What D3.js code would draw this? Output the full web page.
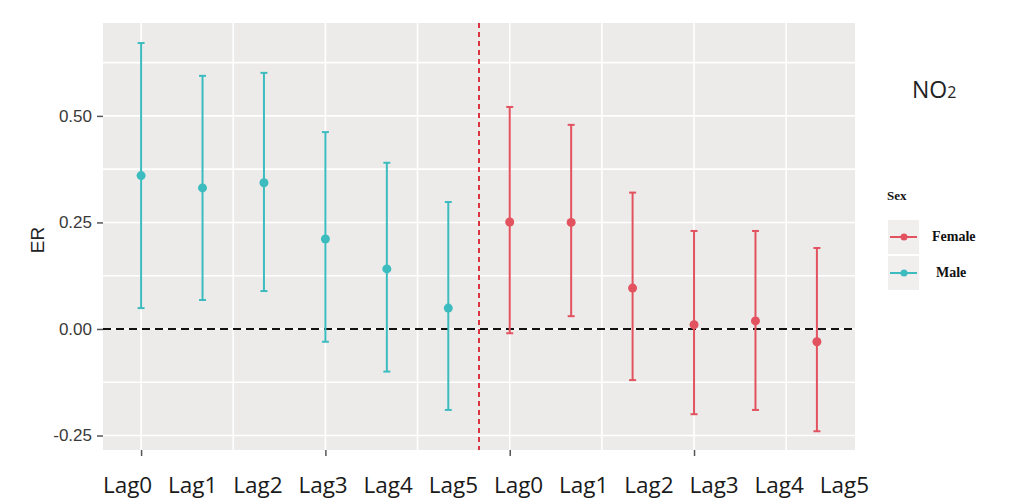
<!DOCTYPE html>
<html>
<head>
<meta charset="utf-8">
<script src="https://cdn.jsdelivr.net/npm/d3@7"></script>
<style>
  body { margin: 0; background: #fff; }
  svg { display: block; }
</style>
</head>
<body>
<svg width="1012" height="502"></svg>
<script>
  // values
  const lags = ['Lag0', 'Lag1', 'Lag2', 'Lag3', 'Lag4', 'Lag5'];
  const maleER = [0.36, 0.331, 0.343, 0.211, 0.141, 0.049];
  const maleLow = [0.049, 0.068, 0.089, -0.03, -0.10, -0.19];
  const maleHigh = [0.671, 0.594, 0.601, 0.462, 0.39, 0.298];
  const femaleER = [0.251, 0.25, 0.096, 0.01, 0.019, -0.03];
  const femaleLow = [-0.01, 0.03, -0.12, -0.20, -0.19, -0.24];
  const femaleHigh = [0.521, 0.479, 0.32, 0.23, 0.23, 0.19];
  const yTicks = [-0.25, 0, 0.25, 0.5];
  const yMinor = [-0.125, 0.125, 0.375, 0.625];
  const sexes = ['Female', 'Male'];

  const colors = {Female: '#e2525f', Male: '#3dbcbf'};

  const svg = d3.select('svg');
  const panel = {left: 103, right: 855, top: 23, bottom: 450};

  // build rows: male first, then female
  const rows = [];
  lags.forEach((l, i) => rows.push({sex: 'Male', lag: l, er: maleER[i], lo: maleLow[i], hi: maleHigh[i]}));
  lags.forEach((l, i) => rows.push({sex: 'Female', lag: l, er: femaleER[i], lo: femaleLow[i], hi: femaleHigh[i]}));

  const x = d3.scaleLinear().domain([-0.62, 11.62]).range([panel.left, panel.right]);
  const y = d3.scaleLinear().domain([-0.284, 0.718]).range([panel.bottom, panel.top]);
  // the lag labels under the axis sit on their own evenly spaced row
  const xLab = d3.scaleBand().domain(d3.range(12)).range([95, 877]);
  const fmt = d3.formatLocale({decimal: '.', thousands: ',', grouping: [3], currency: ['', ''], minus: '-'}).format('.2f');

  const g = svg.append('g');

  g.append('rect')
    .attr('x', panel.left).attr('y', panel.top)
    .attr('width', panel.right - panel.left).attr('height', panel.bottom - panel.top)
    .attr('fill', '#ecebea');

  // grid
  const xGrid = d3.range(0, 11, 1.5);
  g.selectAll('.vgrid').data(xGrid).enter().append('line')
    .attr('class', 'vgrid')
    .attr('x1', d => x(d)).attr('x2', d => x(d))
    .attr('y1', panel.top).attr('y2', panel.bottom)
    .attr('stroke', '#fff').attr('stroke-width', 1.6);
  g.selectAll('.hgrid').data(yTicks.concat(yMinor)).enter().append('line')
    .attr('class', 'hgrid')
    .attr('x1', panel.left).attr('x2', panel.right)
    .attr('y1', d => y(d)).attr('y2', d => y(d))
    .attr('stroke', '#fff').attr('stroke-width', 1.6);

  // y axis
  const yAxis = g.append('g')
    .attr('transform', 'translate(' + panel.left + ',0)')
    .call(d3.axisLeft(y).tickValues(yTicks).tickFormat(fmt).tickSize(6).tickPadding(5));
  yAxis.select('.domain').remove();
  yAxis.selectAll('line').attr('stroke', '#555').attr('stroke-width', 1.5);
  yAxis.selectAll('text')
    .attr('fill', '#3a3a3a')
    .style('font-family', 'Liberation Sans, Arial, sans-serif')
    .style('font-size', '17px');

  // x axis ticks
  const xAxis = g.append('g')
    .attr('transform', 'translate(0,' + panel.bottom + ')')
    .call(d3.axisBottom(x).tickValues([0, 3, 6, 9]).tickFormat('').tickSize(6));
  xAxis.select('.domain').remove();
  xAxis.selectAll('line').attr('stroke', '#555').attr('stroke-width', 1.5);

  // zero line and separator
  g.append('line')
    .attr('x1', panel.left).attr('x2', panel.right)
    .attr('y1', y(0)).attr('y2', y(0))
    .attr('stroke', '#111').attr('stroke-width', 2)
    .attr('stroke-dasharray', '8,5');
  g.append('line')
    .attr('x1', x(5.5)).attr('x2', x(5.5))
    .attr('y1', panel.top).attr('y2', panel.bottom)
    .attr('stroke', '#d9343f').attr('stroke-width', 2)
    .attr('stroke-dasharray', '5,4');

  // error bars
  const bars = g.selectAll('.eb').data(rows).enter().append('g').attr('class', 'eb');
  bars.append('line')
    .attr('x1', (d, i) => x(i)).attr('x2', (d, i) => x(i))
    .attr('y1', d => y(d.lo)).attr('y2', d => y(d.hi))
    .attr('stroke', d => colors[d.sex]).attr('stroke-width', 2);
  bars.append('line')
    .attr('x1', (d, i) => x(i) - 3.5).attr('x2', (d, i) => x(i) + 3.5)
    .attr('y1', d => y(d.hi)).attr('y2', d => y(d.hi))
    .attr('stroke', d => colors[d.sex]).attr('stroke-width', 2);
  bars.append('line')
    .attr('x1', (d, i) => x(i) - 3.5).attr('x2', (d, i) => x(i) + 3.5)
    .attr('y1', d => y(d.lo)).attr('y2', d => y(d.lo))
    .attr('stroke', d => colors[d.sex]).attr('stroke-width', 2);
  bars.append('circle')
    .attr('cx', (d, i) => x(i)).attr('cy', d => y(d.er))
    .attr('r', 4.5)
    .attr('fill', d => colors[d.sex]);

  // lag labels
  g.selectAll('.lab').data(rows).enter().append('text')
    .attr('class', 'lab')
    .attr('x', (d, i) => xLab(i) + xLab.bandwidth() / 2)
    .attr('y', 493)
    .attr('text-anchor', 'middle')
    .attr('fill', '#1a1a1a')
    .style('font-family', 'Open Sans, sans-serif')
    .style('font-size', '22.5px')
    .text(d => d.lag);

  // y title
  g.append('text')
    .attr('transform', 'translate(44,240) rotate(-90)')
    .attr('text-anchor', 'middle')
    .attr('fill', '#222')
    .style('font-family', 'Liberation Sans, Arial, sans-serif')
    .style('font-size', '19px')
    .text('ER');

  // pollutant title
  const title = g.append('text')
    .attr('x', 912).attr('y', 98)
    .attr('fill', '#222')
    .style('font-family', 'Open Sans, sans-serif')
    .style('font-size', '23px');
  title.append('tspan').text('NO');
  title.append('tspan').style('font-size', '16px').text('2');

  // legend
  g.append('text')
    .attr('x', 887).attr('y', 200)
    .attr('fill', '#111')
    .style('font-family', 'Liberation Serif, Times New Roman, serif')
    .style('font-weight', 'bold')
    .style('font-size', '13px')
    .text('Sex');

  const legend = g.selectAll('.leg').data(sexes).enter().append('g')
    .attr('class', 'leg')
    .attr('transform', (d, i) => 'translate(888,' + (220 + i * 36) + ')');
  legend.append('rect')
    .attr('width', 31).attr('height', 34)
    .attr('fill', '#f0efee');
  legend.append('line')
    .attr('x1', 2).attr('x2', 29)
    .attr('y1', 17).attr('y2', 17)
    .attr('stroke', d => colors[d]).attr('stroke-width', 2);
  legend.append('circle')
    .attr('cx', 16).attr('cy', 17).attr('r', 3.5)
    .attr('fill', d => colors[d]);
  legend.append('text')
    .attr('x', (d, i) => i === 0 ? 44 : 48)
    .attr('y', 21)
    .attr('fill', '#111')
    .style('font-family', 'Liberation Serif, Times New Roman, serif')
    .style('font-weight', 'bold')
    .style('font-size', '14px')
    .text(d => d);
</script>
</body>
</html>
